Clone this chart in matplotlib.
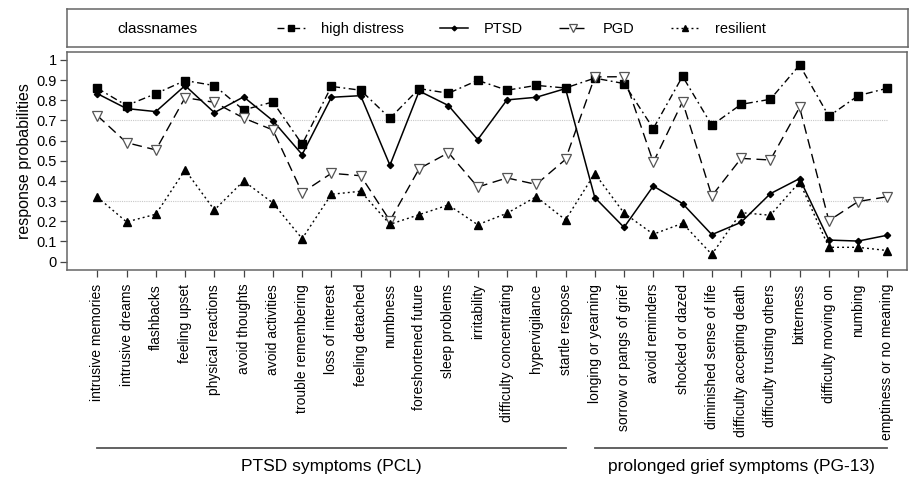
import matplotlib
matplotlib.use("Agg")
import matplotlib.pyplot as plt
import matplotlib.transforms as mtransforms

plt.rcParams['font.family'] = ['Liberation Sans', 'DejaVu Sans']

categories = ["intrusive memories", "intrusive dreams", "flashbacks", "feeling upset",
              "physical reactions", "avoid thoughts", "avoid activities",
              "trouble remembering", "loss of interest", "feeling detached", "numbness",
              "foreshortened future", "sleep problems", "irritability",
              "difficulty concentrating", "hypervigilance", "startle respose",
              "longing or yearning", "sorrow or pangs of grief", "avoid reminders",
              "shocked or dazed", "diminished sense of life", "difficulty accepting death",
              "difficulty trusting others", "bitterness", "difficulty moving on",
              "numbing", "emptiness or no meaning"]

high_distress = [0.86, 0.774, 0.833, 0.898, 0.873, 0.752, 0.792, 0.582, 0.869, 0.85,
                 0.711, 0.858, 0.835, 0.899, 0.85, 0.874, 0.861, 0.91, 0.883, 0.66,
                 0.919, 0.676, 0.78, 0.805, 0.975, 0.721, 0.823, 0.86]
ptsd = [0.833, 0.759, 0.744, 0.873, 0.739, 0.817, 0.699, 0.531, 0.815, 0.823,
        0.478, 0.846, 0.774, 0.605, 0.802, 0.815, 0.858, 0.318, 0.17, 0.375,
        0.288, 0.134, 0.195, 0.337, 0.412, 0.107, 0.102, 0.131]
pgd = [0.724, 0.59, 0.554, 0.813, 0.79, 0.712, 0.653, 0.342, 0.438, 0.426,
       0.203, 0.461, 0.54, 0.37, 0.415, 0.383, 0.507, 0.916, 0.917, 0.493,
       0.793, 0.326, 0.512, 0.504, 0.765, 0.203, 0.298, 0.322]
resilient = [0.32, 0.197, 0.235, 0.455, 0.256, 0.4, 0.291, 0.114, 0.334, 0.349,
             0.185, 0.233, 0.281, 0.183, 0.24, 0.322, 0.207, 0.437, 0.241, 0.136,
             0.19, 0.036, 0.243, 0.23, 0.395, 0.071, 0.071, 0.055]

series_names = ["high distress", "PTSD", "PGD", "resilient"]
ref_lines = [0.3, 0.7]
yticks = [0, 0.1, 0.2, 0.3, 0.4, 0.5, 0.6, 0.7, 0.8, 0.9, 1]
ytick_labels = ["0", "0.1", "0.2", "0.3", "0.4", "0.5", "0.6", "0.7", "0.8", "0.9", "1"]
groups = [("PTSD symptoms (PCL)", 0, 16), ("prolonged grief symptoms (PG-13)", 17, 27)]

W, H = 909, 480
fig = plt.figure(figsize=(W / 100, H / 100), dpi=100)

ax = fig.add_axes([66.7 / W, 1 - 269.5 / H, (907 - 66.7) / W, (269.5 - 51.7) / H])
x = list(range(len(categories)))

styles = [
    dict(color='black', lw=1.0, ls=(0, (5, 2.5, 1.3, 2.5)), marker='s', ms=5.2,
         mfc='black', mec='black'),
    dict(color='black', lw=1.1, ls='-', marker='D', ms=3.2, mfc='black', mec='black'),
    dict(color='black', lw=1.0, ls=(0, (7, 4)), marker='v', ms=7.5, mfc='white',
         mec='#555555', mew=0.9),
    dict(color='black', lw=1.0, ls=(0, (1.4, 2.2)), marker='^', ms=5.8, mfc='black',
         mec='black'),
]
data = [high_distress, ptsd, pgd, resilient]
handles = []
for vals, st, name in zip(data, styles, series_names):
    h, = ax.plot(x, vals, label=name, **st)
    handles.append(h)

for r in ref_lines:
    ax.hlines(r, x[0], x[-1], colors='#c8c8c8', linestyles=(0, (1, 1)), lw=0.8, zorder=0)

ax.set_xlim(-1.046, 27.67)
ax.set_ylim(-0.039, 1.041)
ax.set_yticks(yticks)
ax.set_yticklabels(ytick_labels, fontsize=10.5)
ax.set_xticks(x)
ax.set_xticklabels(categories, rotation=90, fontsize=10)
ax.tick_params(axis='both', direction='out', length=5.3, width=0.9, color='#444444')
ax.tick_params(axis='x', pad=5)
ax.tick_params(axis='y', pad=2)
for s in ax.spines.values():
    s.set_color('#666666')
    s.set_linewidth(1.1)
ax.set_ylabel("response probabilities", fontsize=11.5, labelpad=3)

# group brackets below the tick labels
trans = mtransforms.blended_transform_factory(ax.transData, fig.transFigure)
for label, i0, i1 in groups:
    ax.plot([x[i0], x[i1]], [1 - 447.7 / H, 1 - 447.7 / H], transform=trans,
            color='#555555', lw=1.3, clip_on=False)
    ax.text((x[i0] + x[i1]) / 2, 1 - 467 / H, label, transform=trans, ha='center',
            va='center', fontsize=12.5)

# legend box
lax = fig.add_axes([66.7 / W, 1 - 47 / H, (908 - 66.7) / W, (47 - 9.3) / H])
lax.set_xticks([])
lax.set_yticks([])
for s in lax.spines.values():
    s.set_color('#666666')
    s.set_linewidth(1.1)
lax.text(117 / W, 1 - 29 / H, "classnames", transform=fig.transFigure, ha='left',
         va='center', fontsize=11)
fig.legend(handles=handles, labels=series_names, ncol=4, frameon=False,
           loc='center left', bbox_to_anchor=(277 / W, 1 - 29 / H),
           borderpad=0, borderaxespad=0, handlelength=1.92, handletextpad=1.1,
           columnspacing=2.47, fontsize=10.5, numpoints=1, markerscale=0.75)

fig.savefig("out.png", dpi=100)
